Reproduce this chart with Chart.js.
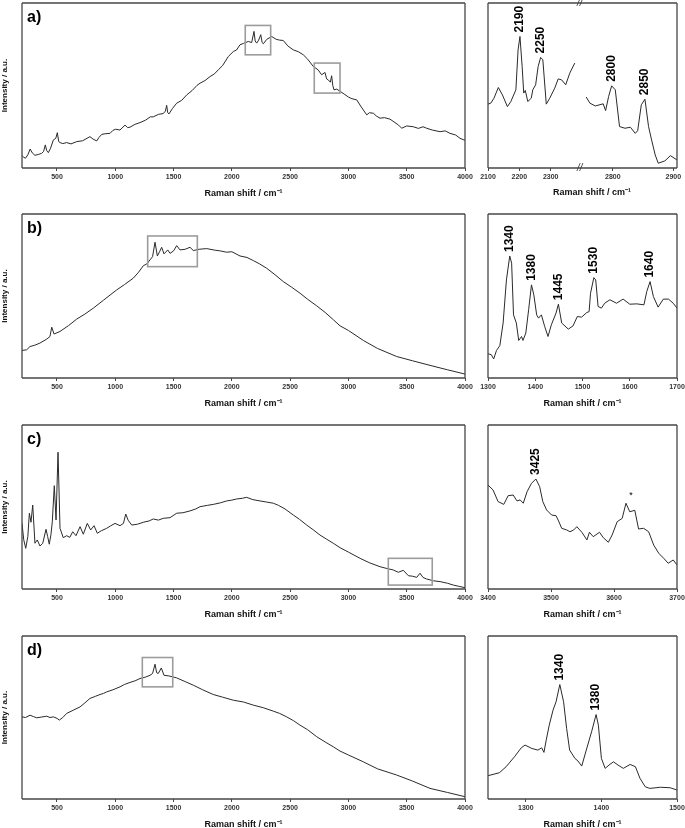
<!DOCTYPE html>
<html><head><meta charset="utf-8">
<script src="https://cdn.jsdelivr.net/npm/chart.js@4/dist/chart.umd.min.js"></script>
<style>
html,body{margin:0;padding:0;background:#fff;}
body{width:685px;height:828px;position:relative;overflow:hidden;font-family:'Liberation Sans',Arial,sans-serif;}
canvas{position:absolute;}
.txt{position:absolute;color:#111;font-weight:bold;white-space:nowrap;}
.brk{position:absolute;color:#333;font-size:10px;line-height:10px;font-style:italic;white-space:nowrap;}
</style></head>
<body>
<canvas id="aL"></canvas><canvas id="aR1"></canvas><canvas id="aR2"></canvas>
<canvas id="bL"></canvas><canvas id="bR"></canvas>
<canvas id="cL"></canvas><canvas id="cR"></canvas>
<canvas id="dL"></canvas><canvas id="dR"></canvas>
<div class="txt" style="left:542px;top:186px;width:100px;text-align:center;font-size:9px;line-height:12px;">Raman shift / cm⁻¹</div>
<div class="brk" style="left:577px;top:-2px;">//</div>
<div class="brk" style="left:577px;top:163px;">//</div>
<script>
// ---------- tick labels ----------
const ticksMain = [500, 1000, 1500, 2000, 2500, 3000, 3500, 4000];
const ticksA1 = [2100, 2200, 2300];
const ticksA2 = [2800, 2900];
const ticksB = [1300, 1400, 1500, 1600, 1700];
const ticksC = [3400, 3500, 3600, 3700];
const ticksD = [1300, 1400, 1500];

// ---------- series (Raman shift / intensity a.u.) ----------
const aX = [200,215,230,250,270,290,311,340,369,385,400,412,426,445,469,490,503,515,526,550,583,620,669,720,783,810,841,860,884,920,955,980,1004,1040,1084,1105,1126,1170,1212,1260,1300,1326,1370,1412,1430,1441,1450,1461,1490,1527,1570,1613,1660,1700,1727,1770,1813,1850,1884,1920,1970,2013,2040,2070,2100,2141,2170,2190,2200,2213,2230,2248,2260,2270,2300,2342,2380,2410,2441,2480,2527,2570,2613,2650,2699,2740,2770,2799,2813,2827,2845,2856,2866,2876,2900,2928,2970,3000,3030,3071,3110,3157,3180,3214,3240,3271,3310,3357,3400,3430,3457,3500,3557,3600,3640,3671,3720,3786,3830,3871,3920,3957,3991,4000];
const aY = [7.5,6.5,5.9,8,11.5,9,7.7,8.2,8.9,10,14,10.5,9.3,12,17,18,21.4,16,15.4,14.8,15.4,14.6,16,16.5,19,17.5,16.4,18.5,20.4,20.8,21,22.8,23.5,23,26,24.5,24.7,26.5,27.5,29,31,31,32.5,33,34.5,38,33.5,32.8,36,39.3,41,44.3,47,50,51.4,53,55.4,57,59.5,62,67.6,70.6,71.5,74.7,75.5,76.7,76,82.8,77,75.7,77.5,80.8,76,75.3,78,79.7,78,77.5,77.3,74,71.6,70.5,68.6,66,61.5,59.5,56.5,57.9,54,53.4,52,55.9,50,47.4,47.8,46.5,44.5,43,42,41.3,37,32.2,33.5,33.2,31.5,30.2,30.5,29.6,27.5,26,24.1,25.5,25,24,25,24.1,23,22,22.5,21,20,18,17,17];

const aR1X = [2100,2109,2119,2133,2146,2162,2173,2189,2196,2202,2209,2214,2219,2227,2238,2243,2252,2260,2268,2275,2286,2297,2313,2324,2335,2348,2361,2377];
const aR1Y = [38.7,39.3,42.3,48.8,44.3,37.2,40.3,47.4,71.6,79.7,61.5,45.4,47,40.3,42.3,47.4,50.4,61.5,67,65.6,38.7,42.3,48.4,54,53.4,50.4,57.5,63.6];
const aR2X = [2756,2762,2771,2784,2788,2793,2798,2804,2811,2820,2829,2837,2841,2847,2853,2859,2864,2870,2875,2886,2895,2906];
const aR2Y = [43,39.3,37.6,38.9,34.8,43.3,49.8,47.4,25.1,24.1,24.7,21,22.6,38.3,41.7,25.1,17,7.9,2.9,4.3,7.5,4.9];

const bX = [200,240,269,310,354,412,440,455,475,526,600,669,740,812,900,1012,1080,1155,1200,1241,1270,1298,1320,1341,1361,1380,1398,1418,1450,1470,1500,1527,1555,1600,1641,1670,1720,1784,1850,1900,1956,2000,2070,2130,2184,2240,2299,2370,2441,2510,2585,2650,2728,2800,2871,2928,3000,3128,3250,3414,3550,3700,3850,4000];
const bY = [16.8,17.2,19.2,20,21.3,23.7,25.3,31,26.8,28.4,32,35.9,39,42.6,47.5,53.7,57,60.9,64.5,68.5,69.5,72,74,82.8,74.4,77,79.7,75.7,78.1,76,77.5,80.7,78.1,78.5,79.7,77.7,78.5,78.9,78,77.5,76.7,77,74.4,73.5,71.6,69.5,66.9,63,58.8,55.5,51.7,48,44,40,35.5,31.8,29,22.9,18,13.1,10.5,7.7,5,2.4];
const bRX = [1300,1307,1312,1318,1325,1332,1339,1346,1350,1354,1360,1365,1371,1374,1380,1386,1392,1397,1403,1407,1413,1420,1427,1434,1444,1449,1456,1470,1480,1489,1498,1509,1514,1517,1524,1528,1533,1540,1547,1558,1572,1586,1600,1615,1630,1636,1643,1650,1660,1671,1682,1692,1700];
const bRY = [14.8,14.2,11.6,16.8,19.7,33.5,59.8,74.4,70,38.5,33.5,22.9,25.3,22.9,27.4,41.6,56.8,50.7,38.5,36.5,38.5,31.4,25.3,32.4,39.6,45,33.5,29.8,31.8,37.5,37.1,39.9,40.5,51.7,61.2,59.8,43.6,42.6,45.6,47.7,45.6,48.1,45,45.2,44.6,52.7,58.8,49.7,43.2,48.1,48.1,45.6,42.6];

const cX = [200,215,232,250,263,277,292,311,331,354,378,406,420,434,448,460,477,492,509,526,554,583,610,635,663,698,726,760,789,818,846,880,926,960,998,1041,1070,1090,1110,1141,1190,1241,1290,1326,1370,1412,1470,1527,1580,1641,1690,1727,1790,1841,1900,1956,2000,2042,2090,2127,2180,2241,2300,2356,2400,2456,2527,2580,2642,2700,2756,2810,2870,2928,3000,3100,3180,3271,3330,3385,3428,3471,3514,3550,3586,3614,3640,3671,3730,3786,3850,3900,3950,4000];
const cY = [40,30,24.8,32,46.2,40.7,51.2,27.9,29.9,26.2,27.9,36.4,32,27.3,33,41,63,42.1,83.4,37,31.3,32.5,31.5,34.9,32.5,38,33.4,40,36,38.6,34,35.5,37,38.5,40,38.6,40,45.7,42,39,39.5,40.7,41.5,42.7,42,43.1,43.5,46.2,46.5,47.6,48.8,50.2,51,51.6,52.5,53.7,54.2,54.9,55.3,55.9,54.5,53.7,53,52.3,51,48.8,45.1,42.5,39,36,32.9,30.5,27.9,25.2,22.5,18.7,16,13.6,12.5,11.6,10.2,11.4,8.1,7.8,7.1,9.6,7,6.1,5,4.5,3.5,2.4,1.6,0.8];
const cRX = [3400,3408,3416,3425,3432,3440,3446,3451,3456,3462,3469,3476,3482,3487,3493,3501,3508,3512,3517,3525,3530,3536,3541,3549,3557,3561,3567,3577,3583,3591,3597,3605,3613,3619,3625,3633,3639,3647,3655,3663,3671,3679,3686,3694,3700];
const cRY = [63.4,60.4,53.3,51.6,56.9,57.3,53.7,54.3,52.3,59.3,64.4,67.1,62.4,53.3,48.2,45.1,44.7,41.5,37,36,34.9,36,38,34.6,29.9,34.6,31.9,34.6,31.3,28.5,32.9,41,43.1,52.3,47.1,48,36.6,37,34.9,26.8,21.8,18.7,15.7,17.7,14.6];

const dX = [200,230,269,300,326,370,412,440,469,500,520,550,583,640,698,740,783,830,869,900,926,980,1041,1080,1126,1170,1212,1260,1298,1320,1341,1355,1369,1395,1418,1460,1527,1600,1670,1750,1841,1920,2013,2100,2184,2270,2356,2410,2470,2530,2585,2650,2728,2800,2871,2928,3000,3128,3250,3414,3550,3700,3850,4000];
const dY = [50.4,50,51.4,50.5,49.8,50.3,50.8,50,50.4,49.5,48.4,50,52.5,54.5,56.5,59,61.7,63,64.1,64.8,65.7,67,68.8,70.3,71.5,72.5,73.9,74.8,75.9,77,82.7,77.5,77,80.4,75.9,75.5,74.3,72,69.8,67,64.1,62.5,60.6,59.5,57.6,56,53.9,52.5,50.4,48,45.3,42.5,38.2,35,32,29.4,27,22.8,18.5,14.7,11,6.5,4,1.4];
const dRX = [1250,1265,1274,1285,1294,1299,1308,1316,1321,1324,1327,1331,1336,1340,1345,1350,1354,1358,1365,1369,1374,1380,1387,1393,1396,1400,1405,1410,1416,1422,1429,1438,1445,1451,1458,1464,1478,1491,1500];
const dRY = [14.3,16.1,19.8,25.9,31.4,33.1,31,30,31.4,28.6,36.1,45.3,54.5,59.6,70.2,59.6,43.3,30,24.9,23.3,20.2,30,41.2,51.8,45.3,24.9,18.8,20.8,22.8,20.8,18.8,21.2,19.8,12.7,7.5,6.5,7.2,6.9,5.5];

// ---------- annotations (data units) ----------
const boxesA = [[2115,2333,68.6,86.4],[2707,2928,45.4,63.6]];
const boxesB = [[1278,1704,67.9,86.6]];
const boxesC = [[3342,3719,2.4,18.7]];
const boxesD = [[1232,1493,68.8,86.8]];
const peaksA1 = [['2190',2202,79.7],['2250',2268,67]];
const peaksA2 = [['2800',2798,49.8],['2850',2853,41.7]];
const peaksB = [['1340',1346,74.4],['1380',1392,56.8],['1445',1449,45],['1530',1524,61.2],['1640',1643,58.8]];
const peaksC = [['3425',3476,67.1]];
const marksC = [['*',3627,57.3]];
const peaksD = [['1340',1345,70.2],['1380',1393,51.8]];

// ---------- drawing ----------
const FONT = "'Liberation Sans', Arial, Helvetica, sans-serif";
const LINE = '#2a2a2a';
const FRAME = '#474747';

const extras = {
  id: 'extras',
  afterDatasetsDraw(chart, args, o) {
    const {ctx, chartArea: a, scales: {x, y}} = chart;
    ctx.save();
    (o.boxes || []).forEach(b => {
      const x0 = x.getPixelForValue(b[0]), x1 = x.getPixelForValue(b[1]);
      const y0 = y.getPixelForValue(b[3]), y1 = y.getPixelForValue(b[2]);
      ctx.strokeStyle = '#9c9c9c'; ctx.lineWidth = 1.6;
      ctx.strokeRect(x0, y0, x1 - x0, y1 - y0);
    });
    ctx.strokeStyle = FRAME; ctx.lineWidth = 1.3;
    const s = o.sides || 'tlbr';
    ctx.beginPath();
    if (s.includes('t')) { ctx.moveTo(a.left, a.top); ctx.lineTo(a.right, a.top); }
    if (s.includes('b')) { ctx.moveTo(a.left, a.bottom); ctx.lineTo(a.right, a.bottom); }
    if (s.includes('l')) { ctx.moveTo(a.left, a.top); ctx.lineTo(a.left, a.bottom); }
    if (s.includes('r')) { ctx.moveTo(a.right, a.top); ctx.lineTo(a.right, a.bottom); }
    ctx.stroke();
    ctx.fillStyle = '#000';
    ctx.font = 'bold 12px ' + FONT;
    (o.peaks || []).forEach(p => {
      const px = x.getPixelForValue(p[1]), py = y.getPixelForValue(p[2]);
      ctx.save(); ctx.translate(px, py - 4); ctx.rotate(-Math.PI / 2);
      ctx.textAlign = 'left'; ctx.textBaseline = 'middle';
      ctx.fillText(p[0], 0, 0); ctx.restore();
    });
    ctx.font = '9px ' + FONT;
    (o.marks || []).forEach(p => {
      ctx.textAlign = 'center'; ctx.textBaseline = 'middle';
      ctx.fillText(p[0], x.getPixelForValue(p[1]), y.getPixelForValue(p[2]));
    });
    if (o.letter) {
      ctx.font = 'bold 16px ' + FONT; ctx.textAlign = 'left'; ctx.textBaseline = 'alphabetic';
      ctx.fillText(o.letter, a.left + 5, a.top + 19);
    }
    ctx.restore();
  }
};

function makeChart(id, xs, ys, o) {
  const cv = document.getElementById(id);
  const h = (o.bottom - o.top) + 3 + 35;
  cv.width = o.w; cv.height = h;
  cv.style.left = o.left + 'px'; cv.style.top = (o.top - 3) + 'px';
  cv.style.width = o.w + 'px'; cv.style.height = h + 'px';
  const data = xs.map((v, i) => ({x: v, y: ys[i]}));
  return new Chart(cv, {
    type: 'line',
    data: {datasets: [{data, borderColor: LINE, borderWidth: 1, pointRadius: 0, tension: 0, fill: false}]},
    options: {
      responsive: false, animation: false, devicePixelRatio: 1,
      layout: {padding: {top: 3, left: o.pl, right: o.pr, bottom: 0}},
      plugins: {legend: {display: false}, tooltip: {enabled: false},
        extras: {boxes: o.boxes, peaks: o.peaks, marks: o.marks, letter: o.letter, sides: o.sides}},
      scales: {
        x: {
          type: 'linear', min: o.min, max: o.max,
          afterBuildTicks: sc => { sc.ticks = o.ticks.map(v => ({value: v})); },
          grid: {display: true, drawOnChartArea: false, drawTicks: true, tickLength: 3, color: FRAME, lineWidth: 1},
          border: {display: false},
          ticks: {font: {family: FONT, size: 7, weight: 'bold'}, color: '#333', padding: 2,
                  maxRotation: 0, autoSkip: false, callback: v => String(v)},
          title: {display: o.xtitle !== false, text: 'Raman shift / cm⁻¹',
                  font: {family: FONT, size: 9, weight: 'bold'}, color: '#111', padding: {top: 0, bottom: 4}},
          afterFit: sc => { sc.height = 35; }
        },
        y: {
          min: 0, max: 100, display: !!o.ytitle,
          ticks: {display: false}, grid: {display: false}, border: {display: false},
          title: {display: true, text: 'Intensity / a.u.', font: {family: FONT, size: 8, weight: 'bold'},
                  color: '#111', padding: 0},
          afterFit: sc => { sc.width = o.ytitle ? 22 : 0; }
        }
      }
    },
    plugins: [extras]
  });
}

const rows = {a: [3, 168], b: [214, 378], c: [425, 589], d: [636, 799]};
const L = {left: 0, w: 480, pl: 0, pr: 15, min: 200, max: 4000, ticks: ticksMain, ytitle: true};
const R = {left: 476, w: 211, pl: 12, pr: 10};

makeChart('aL', aX, aY, Object.assign({}, L, {top: rows.a[0], bottom: rows.a[1], boxes: boxesA, letter: 'a)'}));
makeChart('aR1', aR1X, aR1Y, {left: 476, w: 106, pl: 12, pr: 0, top: rows.a[0], bottom: rows.a[1],
  min: 2100, max: 2400, ticks: ticksA1, peaks: peaksA1, sides: 'tlb', xtitle: false});
makeChart('aR2', aR2X, aR2Y, {left: 582, w: 105, pl: 0, pr: 10, top: rows.a[0], bottom: rows.a[1],
  min: 2749, max: 2906, ticks: ticksA2, peaks: peaksA2, sides: 'trb', xtitle: false});

makeChart('bL', bX, bY, Object.assign({}, L, {top: rows.b[0], bottom: rows.b[1], boxes: boxesB, letter: 'b)'}));
makeChart('bR', bRX, bRY, Object.assign({}, R, {top: rows.b[0], bottom: rows.b[1], min: 1300, max: 1700, ticks: ticksB, peaks: peaksB}));

makeChart('cL', cX, cY, Object.assign({}, L, {top: rows.c[0], bottom: rows.c[1], boxes: boxesC, letter: 'c)'}));
makeChart('cR', cRX, cRY, Object.assign({}, R, {top: rows.c[0], bottom: rows.c[1], min: 3400, max: 3700, ticks: ticksC, peaks: peaksC, marks: marksC}));

makeChart('dL', dX, dY, Object.assign({}, L, {top: rows.d[0], bottom: rows.d[1], boxes: boxesD, letter: 'd)'}));
makeChart('dR', dRX, dRY, Object.assign({}, R, {top: rows.d[0], bottom: rows.d[1], min: 1250, max: 1500, ticks: ticksD, peaks: peaksD}));
</script>
</body></html>
